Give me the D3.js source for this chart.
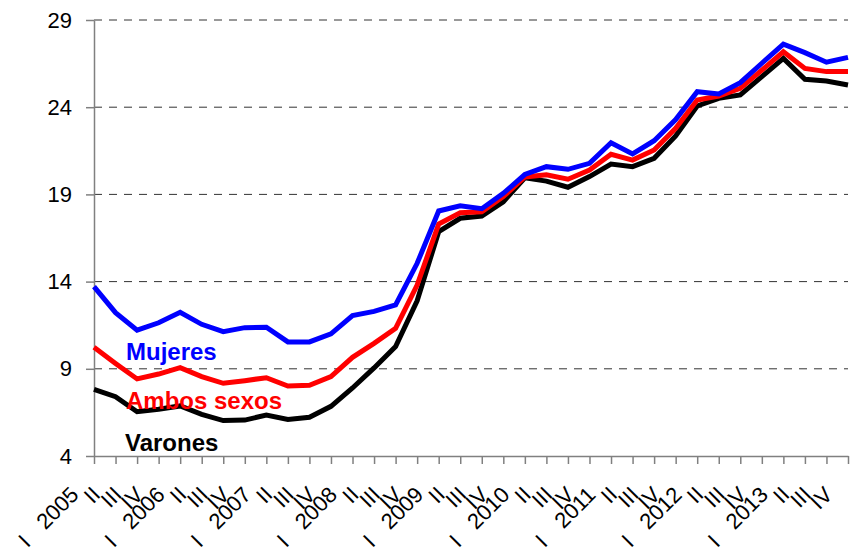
<!DOCTYPE html>
<html lang="es">

<head>
    <meta charset="UTF-8">
    <script src='https://cdnjs.cloudflare.com/ajax/libs/d3/7.8.5/d3.min.js'></script>
    <title>Tasa de paro</title>
    <style>
        body { margin: 0; background: #fff; }
        text { font-family: "Liberation Sans", Arial, sans-serif; }
    </style>
</head>

<body>
    <div id='plot'></div>
</body>

<script>
    // quarters 2005 I .. 2013 IV
    var years = ['2005', '2006', '2007', '2008', '2009', '2010', '2011', '2012', '2013'];
    var quarterNames = ['I', 'II', 'III', 'IV'];
    var yTicks = [4, 9, 14, 19, 24, 29];

    var mujeres = [13.71, 12.22, 11.22, 11.64, 12.24, 11.55, 11.13, 11.36, 11.38, 10.54, 10.54, 11.0,
        12.05, 12.29, 12.66, 15.05, 18.05, 18.35, 18.18, 19.06, 20.14, 20.59, 20.44, 20.78,
        21.96, 21.32, 22.08, 23.29, 24.89, 24.76, 25.41, 26.52, 27.61, 27.13, 26.58, 26.86];
    var ambos = [10.23, 9.31, 8.42, 8.70, 9.07, 8.55, 8.17, 8.32, 8.49, 8.01, 8.05, 8.55,
        9.66, 10.46, 11.32, 13.80, 17.30, 17.95, 18.01, 18.87, 20.0, 20.13, 19.87, 20.40,
        21.30, 20.97, 21.55, 22.79, 24.41, 24.64, 25.08, 26.13, 27.18, 26.22, 26.04, 26.04];
    var varones = [7.82, 7.40, 6.54, 6.68, 6.87, 6.39, 6.03, 6.06, 6.35, 6.10, 6.22, 6.85,
        7.90, 9.05, 10.27, 12.90, 16.86, 17.63, 17.76, 18.58, 19.95, 19.76, 19.41, 20.02,
        20.74, 20.59, 21.07, 22.35, 24.07, 24.51, 24.70, 25.75, 26.80, 25.60, 25.50, 25.27];

    var series = [
        { name: 'Varones', values: varones, color: '#000000', lx: 125, ly: 451 },
        { name: 'Ambos sexos', values: ambos, color: '#ff0000', lx: 126, ly: 409 },
        { name: 'Mujeres', values: mujeres, color: '#0000ff', lx: 126, ly: 360 }
    ];

    // category keys
    var cats = [];
    years.forEach(function (yr) {
        quarterNames.forEach(function (q) { cats.push(yr + '-' + q); });
    });

    // note: "top" is reserved on window, so use a margin object
    var W = 858, H = 552;
    var m = { left: 94, right: 848, top: 20, bottom: 456 };

    var svg = d3.select('#plot')
        .append('svg')
        .attr('width', W)
        .attr('height', H);

    var x = d3.scalePoint().domain(cats).range([m.left, m.right]);
    var y = d3.scaleLinear().domain([4, 29]).range([m.bottom, m.top]);

    // (1) gridlines ____________________________
    svg.append('g')
        .selectAll('line')
        .data(yTicks.filter(function (d) { return d > 4; }))
        .enter()
        .append('line')
        .attr('x1', m.left)
        .attr('x2', m.right)
        .attr('y1', function (d) { return y(d); })
        .attr('y2', function (d) { return y(d); })
        .attr('stroke', '#333')
        .attr('stroke-width', 1)
        .attr('stroke-dasharray', '8,7');

    // (2) Y axis ________________________________
    var yAxis = svg.append('g')
        .attr('transform', 'translate(' + m.left + ',0)')
        .call(d3.axisLeft(y).tickValues(yTicks).tickSize(8).tickPadding(14).tickSizeOuter(0));
    yAxis.select('.domain').attr('stroke', '#808080').attr('stroke-width', 1.5);
    yAxis.selectAll('.tick line').attr('stroke', '#808080').attr('stroke-width', 1.5);
    yAxis.selectAll('.tick text')
        .attr('fill', '#000')
        .style('font-size', '22px')
        .style('font-family', '"Liberation Sans", Arial, sans-serif');

    // (3) X axis ________________________________
    var xAxis = svg.append('g')
        .attr('transform', 'translate(0,' + m.bottom + ')')
        .call(d3.axisBottom(x).tickSize(8).tickSizeOuter(0).tickFormat(''));
    xAxis.select('.domain').attr('stroke', '#808080').attr('stroke-width', 1.5);
    xAxis.selectAll('.tick line').attr('stroke', '#808080').attr('stroke-width', 1.5);

    // rotated quarter labels
    var lab = svg.append('g')
        .selectAll('g')
        .data(cats)
        .enter()
        .append('g')
        .attr('transform', function (d) {
            return 'translate(' + (x(d) - 14) + ',' + (m.bottom + 40) + ') rotate(-45)';
        });
    lab.append('text')
        .attr('text-anchor', 'end')
        .style('font-size', '22px')
        .text(function (d) {
            var p = d.split('-');
            return p[1] === 'I' ? p[0] : p[1];
        });
    lab.filter(function (d) { return d.split('-')[1] === 'I'; })
        .append('text')
        .attr('x', -68)
        .attr('text-anchor', 'end')
        .style('font-size', '22px')
        .text('I');

    // (4) lines __________________________________
    var line = d3.line()
        .x(function (d, i) { return x(cats[i]); })
        .y(function (d) { return y(d); });

    svg.append('g')
        .selectAll('path')
        .data(series)
        .enter()
        .append('path')
        .attr('d', function (s) { return line(s.values); })
        .attr('fill', 'none')
        .attr('stroke', function (s) { return s.color; })
        .attr('stroke-width', 5);

    // series names
    svg.append('g')
        .selectAll('text')
        .data(series)
        .enter()
        .append('text')
        .attr('x', function (s) { return s.lx; })
        .attr('y', function (s) { return s.ly; })
        .attr('fill', function (s) { return s.color; })
        .style('font-size', '24px')
        .style('font-weight', 'bold')
        .text(function (s) { return s.name; });
</script>

</html>
